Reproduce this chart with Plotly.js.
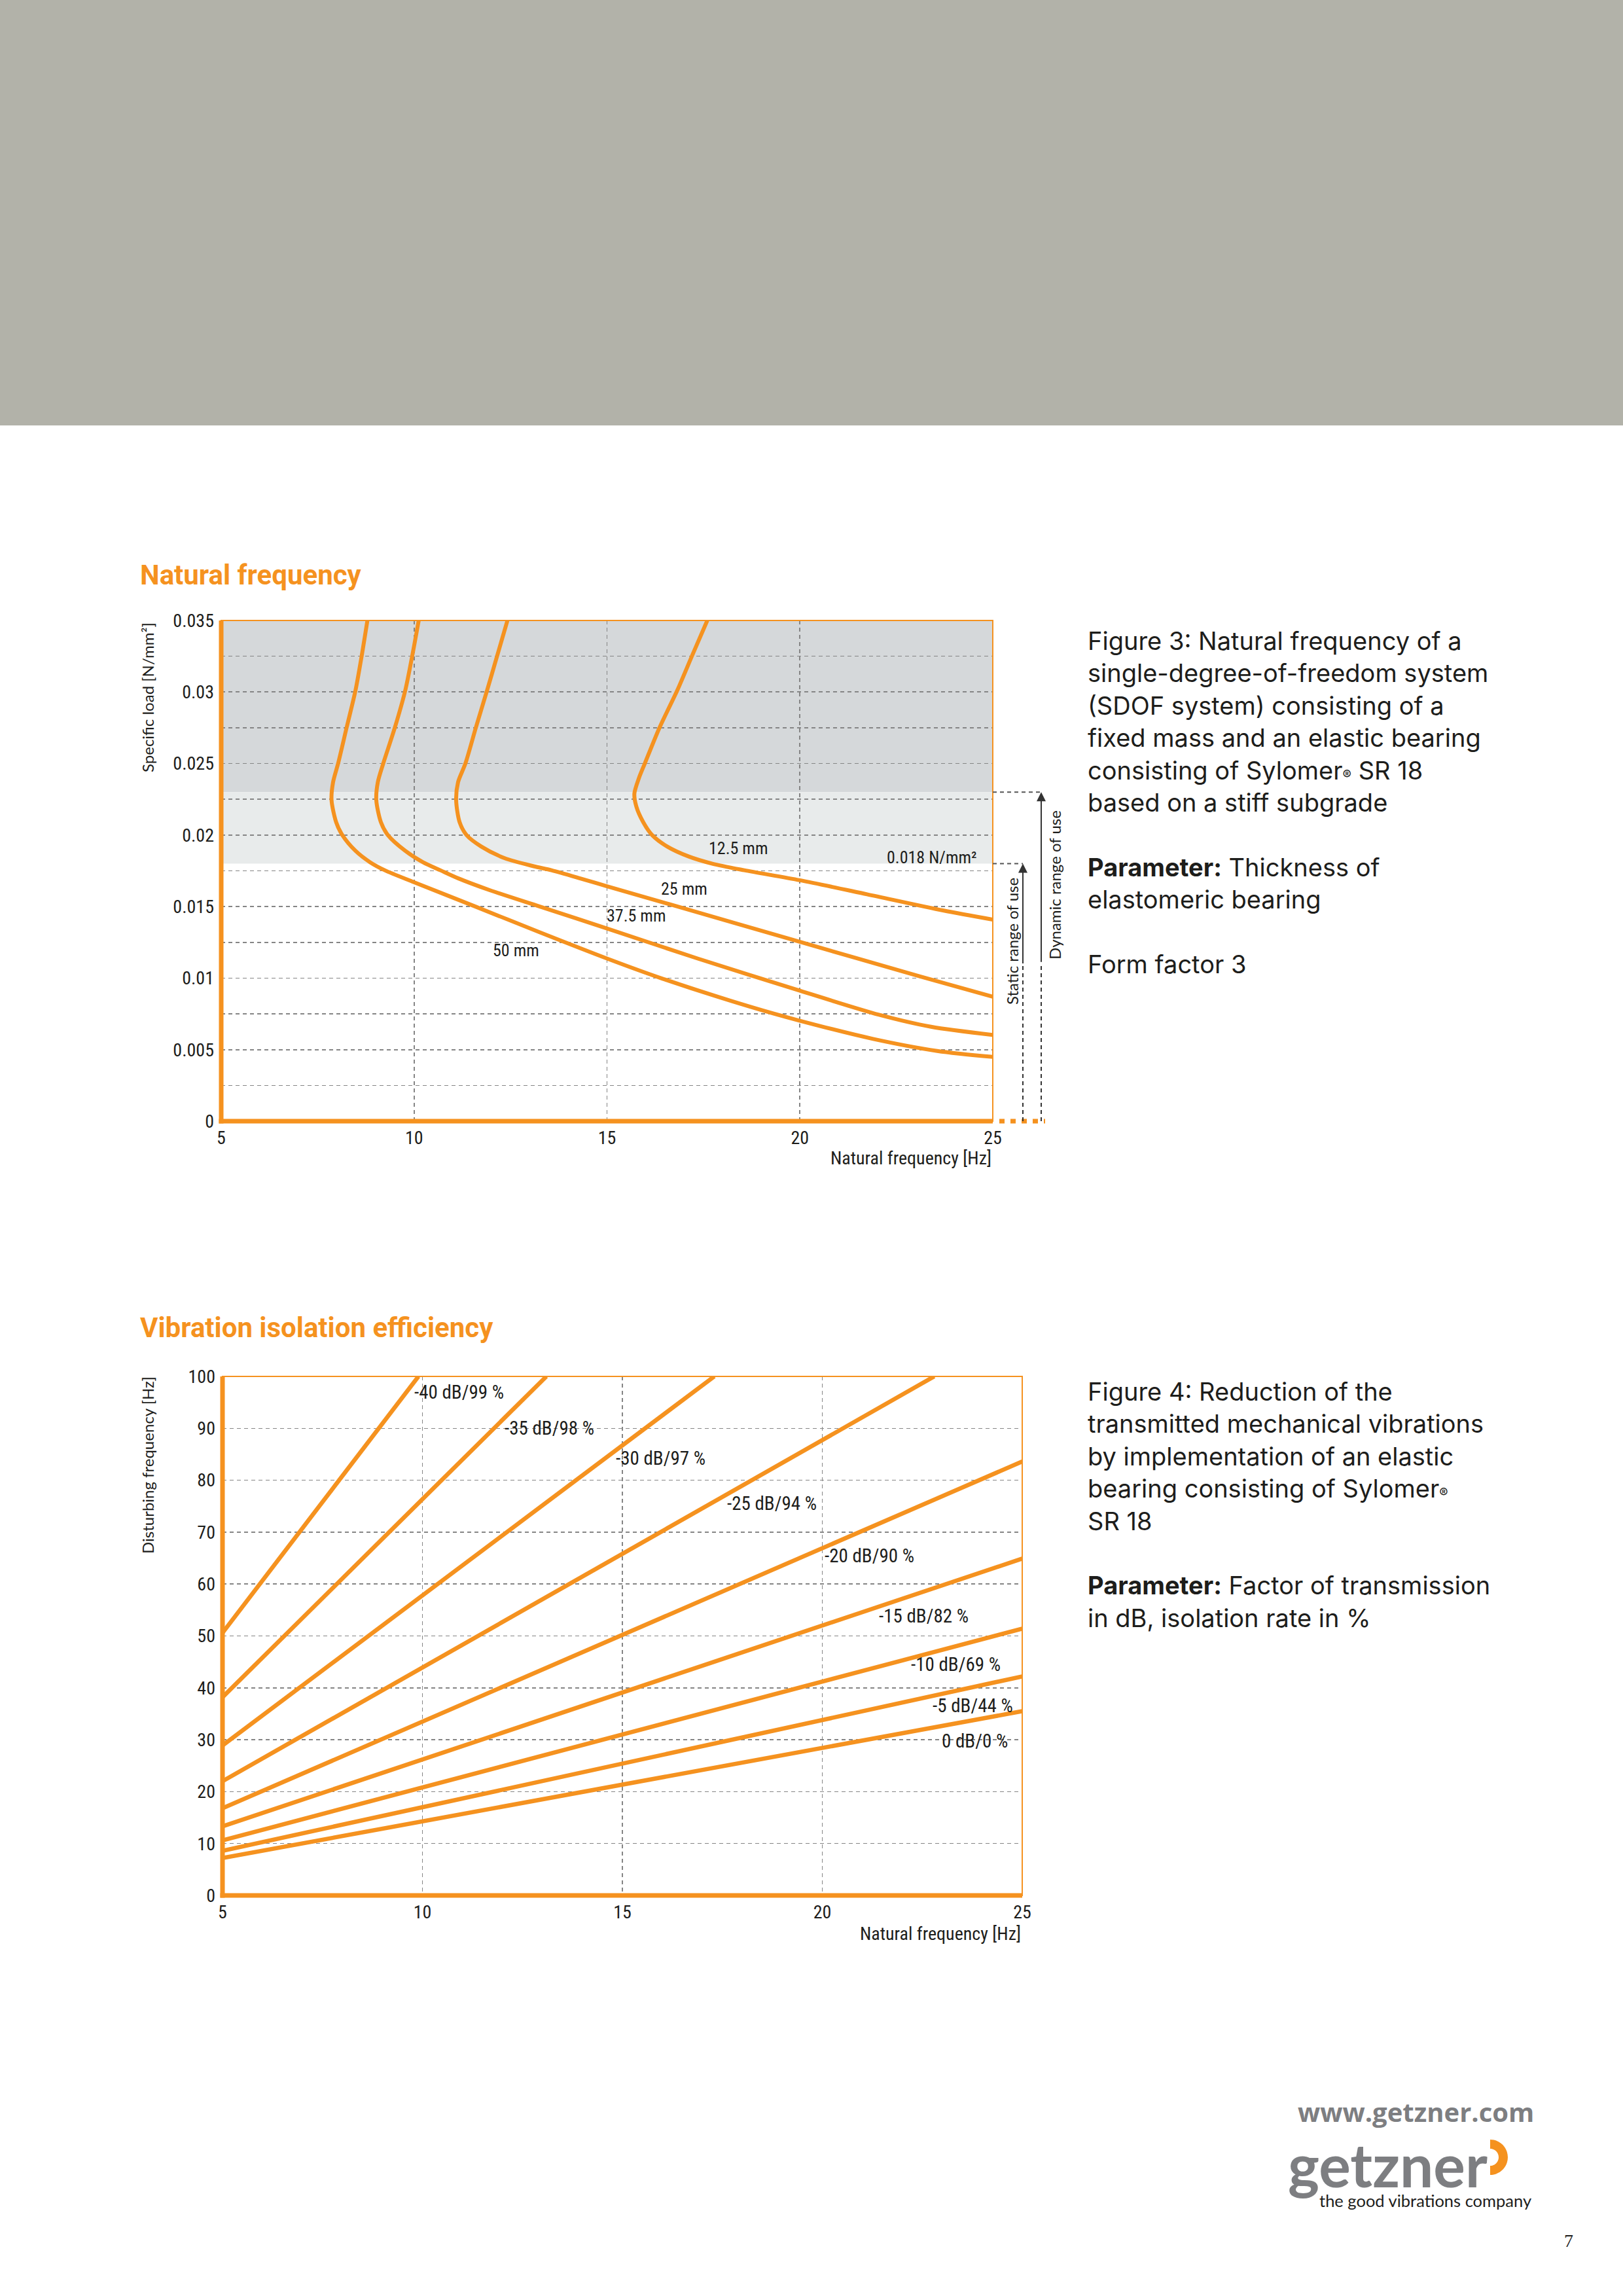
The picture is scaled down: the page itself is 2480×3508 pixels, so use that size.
<!DOCTYPE html>
<html>
<head>
<meta charset="utf-8">
<script src="https://cdn.plot.ly/plotly-3.0.1.min.js"></script>
<style>
html,body{margin:0;padding:0;background:#ffffff;}
#page{width:2480px;height:3508px;}
</style>
</head>
<body>
<div id="page"></div>
<script>
// ---------------- DATA: Figure 3 (natural frequency vs specific load) ----------------
const thicknessLabels = ['12.5 mm', '25 mm', '37.5 mm', '50 mm'];
const freq_12_5 = [17.6, 17.2, 16.82, 16.36, 15.98, 15.83, 15.71, 15.76, 15.94, 16.17, 16.56, 17.12, 17.73, 18.56, 20.0, 21.74, 23.71, 25.0];
const load_12_5 = [0.035, 0.0325, 0.0301, 0.0275, 0.025, 0.024, 0.0229, 0.022, 0.0209, 0.02, 0.0192, 0.0185, 0.018, 0.01754, 0.01684, 0.01586, 0.01473, 0.01409];
const freq_25 = [12.42, 12.15, 11.89, 11.6, 11.33, 11.14, 11.09, 11.18, 11.36, 11.74, 12.35, 13.1, 13.56, 14.32, 15.0, 16.6, 19.92, 23.1, 25.0];
const load_25 = [0.035, 0.0325, 0.0301, 0.0275, 0.025, 0.0237, 0.02245, 0.0209, 0.02, 0.0192, 0.01838, 0.01782, 0.01754, 0.01696, 0.01642, 0.01518, 0.0126, 0.01013, 0.0087];
const freq_37_5 = [10.12, 9.95, 9.77, 9.5, 9.2, 9.06, 9.02, 9.14, 9.32, 9.77, 10.23, 10.68, 11.14, 11.97, 13.26, 15.0, 17.35, 20.0, 22.05, 23.4, 25.0];
const load_37_5 = [0.035, 0.0325, 0.0301, 0.0275, 0.025, 0.0237, 0.02245, 0.0209, 0.02, 0.0189, 0.0181, 0.01754, 0.01698, 0.01614, 0.015, 0.01347, 0.01137, 0.00912, 0.00744, 0.0066, 0.00603];
const freq_50 = [8.79, 8.64, 8.48, 8.25, 8.03, 7.9, 7.86, 7.98, 8.14, 8.48, 8.86, 9.24, 10.0, 11.59, 13.26, 15.0, 16.44, 18.71, 20.0, 21.9, 23.56, 25.0];
const load_50 = [0.035, 0.0325, 0.0301, 0.0275, 0.025, 0.0237, 0.02245, 0.0209, 0.02, 0.0189, 0.0181, 0.01754, 0.0167, 0.015, 0.0132, 0.01137, 0.00996, 0.008, 0.00702, 0.00575, 0.00491, 0.00449];
// label anchor points (freq, load)
const thicknessLabelFreq = [18.4, 17.0, 15.76, 12.65];
const thicknessLabelLoad = [0.01908, 0.01622, 0.01437, 0.01193];
// ranges of use
const staticLimit = 0.018;
const dynamicLimit = 0.023;
const loadMax = 0.035;
const fig3XTicks = [5, 10, 15, 20, 25];
const fig3XTickText = ['5', '10', '15', '20', '25'];
const fig3YTicks = [0, 0.0025, 0.005, 0.0075, 0.01, 0.0125, 0.015, 0.0175, 0.02, 0.0225, 0.025, 0.0275, 0.03, 0.0325, 0.035];
const fig3YTickText = ['0', '', '0.005', '', '0.01', '', '0.015', '', '0.02', '', '0.025', '', '0.03', '', '0.035'];

// ---------------- DATA: Figure 4 (vibration isolation efficiency) ----------------
const isoLabels = ['0 dB/0 %', '-5 dB/44 %', '-10 dB/69 %', '-15 dB/82 %', '-20 dB/90 %', '-25 dB/94 %', '-30 dB/97 %', '-35 dB/98 %', '-40 dB/99 %'];
const isoFreqStart = [5, 5, 5, 5, 5, 5, 5, 5, 5];
const isoDistStart = [7.2, 8.6, 10.6, 13.3, 16.8, 22.0, 28.9, 38.2, 50.6];
const isoFreqEnd = [25, 25, 25, 25, 25, 22.8, 17.3, 13.1, 9.9];
const isoDistEnd = [35.5, 42.2, 51.4, 64.9, 83.6, 100, 100, 100, 100];
const isoLabelFreq = [22.95, 22.73, 22.19, 21.39, 20.03, 17.59, 14.81, 12.02, 9.77];
const isoLabelDist = [29.8, 36.6, 44.5, 53.9, 65.5, 75.5, 84.3, 90.0, 97.0];
const fig4XTicks = [5, 10, 15, 20, 25];
const fig4XTickText = ['5', '10', '15', '20', '25'];
const fig4YTicks = [0, 10, 20, 30, 40, 50, 60, 70, 80, 90, 100];
const fig4YTickText = ['0', '10', '20', '30', '40', '50', '60', '70', '80', '90', '100'];

// ---------------- STYLE ----------------
const W = 2480, H = 3508;
const ORANGE = '#f5921f';
const GRID = '#858585';
const TXT = '#1d1d1b';
const COND = "'Liberation Sans Narrow', 'Roboto Condensed', 'Roboto', sans-serif";
const BODY = "Inter, Lato, sans-serif";
const AXT = "Lato, 'Open Sans', sans-serif";
const px = v => v / W;
const py = v => 1 - v / H;

// chart boxes in page pixels
const C1 = {l: 338, r: 1517, t: 948, b: 1713};
const C2 = {l: 340, r: 1562, t: 2103, b: 2896};

const traces = [];
const fig3Freq = [freq_12_5, freq_25, freq_37_5, freq_50];
const fig3Load = [load_12_5, load_25, load_37_5, load_50];
for (let i = 0; i < fig3Freq.length; i++) {
  traces.push({
    type: 'scatter', mode: 'lines', x: fig3Freq[i], y: fig3Load[i],
    xaxis: 'x', yaxis: 'y', name: thicknessLabels[i], hoverinfo: 'skip',
    line: {color: ORANGE, width: 6, shape: 'spline', smoothing: 0.8}
  });
}
for (let i = 0; i < isoLabels.length; i++) {
  traces.push({
    type: 'scatter', mode: 'lines', x: [isoFreqStart[i], isoFreqEnd[i]], y: [isoDistStart[i], isoDistEnd[i]],
    xaxis: 'x2', yaxis: 'y2', name: isoLabels[i], hoverinfo: 'skip',
    line: {color: ORANGE, width: 6.5}
  });
}

const tickFont = {family: COND, size: 28, color: TXT};
function axisBase(dom, range, tv, tt) {
  return {
    domain: dom, range: range, tickmode: 'array', tickvals: tv, ticktext: tt,
    showgrid: true, gridcolor: GRID, gridwidth: 1.6, griddash: '6px,5px',
    zeroline: false, showline: false, ticks: '', tickfont: tickFont, fixedrange: true
  };
}

const layout = {
  width: W, height: H, margin: {l: 0, r: 0, t: 0, b: 0},
  paper_bgcolor: '#ffffff', plot_bgcolor: 'rgba(0,0,0,0)', showlegend: false,
  xaxis: Object.assign(axisBase([px(C1.l), px(C1.r)], [5, 25], fig3XTicks, fig3XTickText), {anchor: 'y', ticklabelstandoff: 6}),
  yaxis: Object.assign(axisBase([py(C1.b), py(C1.t)], [0, loadMax], fig3YTicks, fig3YTickText), {anchor: 'x', ticklabelstandoff: 10}),
  xaxis2: Object.assign(axisBase([px(C2.l), px(C2.r)], [5, 25], fig4XTicks, fig4XTickText), {anchor: 'y2', ticklabelstandoff: 6}),
  yaxis2: Object.assign(axisBase([py(C2.b), py(C2.t)], [0, 100], fig4YTicks, fig4YTickText), {anchor: 'x2', ticklabelstandoff: 10}),
  shapes: [],
  annotations: []
};
const S = layout.shapes, A = layout.annotations;

// header band
S.push({type: 'rect', xref: 'paper', yref: 'paper', x0: 0, x1: 1, y0: py(650), y1: 1, fillcolor: '#b2b2a9', line: {width: 0}, layer: 'below'});

// figure 3 shaded ranges
S.push({type: 'rect', xref: 'x', yref: 'y', x0: 5, x1: 25, y0: dynamicLimit, y1: loadMax, fillcolor: '#d5d8da', line: {width: 0}, layer: 'below'});
S.push({type: 'rect', xref: 'x', yref: 'y', x0: 5, x1: 25, y0: staticLimit, y1: dynamicLimit, fillcolor: '#e8ebeb', line: {width: 0}, layer: 'below'});

// borders
function borders(c) {
  S.push({type: 'rect', xref: 'paper', yref: 'paper', x0: px(c.l), x1: px(c.r), y0: py(c.b), y1: py(c.t), line: {color: ORANGE, width: 2}, layer: 'above'});
  S.push({type: 'line', xref: 'paper', yref: 'paper', x0: px(c.l), x1: px(c.l), y0: py(c.b + 3.5), y1: py(c.t), line: {color: ORANGE, width: 7}, layer: 'above'});
  S.push({type: 'line', xref: 'paper', yref: 'paper', x0: px(c.l - 3.5), x1: px(c.r), y0: py(c.b), y1: py(c.b), line: {color: ORANGE, width: 7}, layer: 'above'});
}
borders(C1); borders(C2);
// dotted extension of the x-axis in figure 3
S.push({type: 'line', xref: 'paper', yref: 'paper', x0: px(1527), x1: px(1597), y0: py(C1.b), y1: py(C1.b), line: {color: ORANGE, width: 7, dash: '8px,9px'}, layer: 'above'});

// ranges of use (figure 3)
const xStatic = px(1563), xDyn = px(1591);
S.push({type: 'line', xref: 'paper', yref: 'y', x0: px(C1.r), x1: xStatic, y0: staticLimit, y1: staticLimit, line: {color: '#555', width: 2, dash: '6px,5px'}});
S.push({type: 'line', xref: 'paper', yref: 'y', x0: px(C1.r), x1: xDyn, y0: dynamicLimit, y1: dynamicLimit, line: {color: '#555', width: 2, dash: '6px,5px'}});
S.push({type: 'line', xref: 'paper', yref: 'y', x0: xStatic, x1: xStatic, y0: 0, y1: 0.011, line: {color: '#333', width: 2, dash: '6px,5px'}});
S.push({type: 'line', xref: 'paper', yref: 'y', x0: xDyn, x1: xDyn, y0: 0, y1: 0.011, line: {color: '#333', width: 2, dash: '6px,5px'}});
A.push({xref: 'paper', yref: 'y', x: xStatic, y: staticLimit, text: '', showarrow: true, axref: 'pixel', ayref: 'pixel', ax: 0, ay: 154, arrowhead: 2, arrowsize: 1.4, arrowwidth: 2, arrowcolor: '#333', standoff: 0});
A.push({xref: 'paper', yref: 'y', x: xDyn, y: dynamicLimit, text: '', showarrow: true, axref: 'pixel', ayref: 'pixel', ax: 0, ay: 261, arrowhead: 2, arrowsize: 1.4, arrowwidth: 2, arrowcolor: '#333', standoff: 0});
A.push({xref: 'paper', yref: 'paper', x: px(1546), y: py(1438), text: 'Static range of use', textangle: -90, showarrow: false, xanchor: 'center', yanchor: 'middle', font: {family: AXT, size: 24, color: TXT}});
A.push({xref: 'paper', yref: 'paper', x: px(1611), y: py(1352), text: 'Dynamic range of use', textangle: -90, showarrow: false, xanchor: 'center', yanchor: 'middle', font: {family: AXT, size: 24, color: TXT}});

// curve labels figure 3
for (let i = 0; i < thicknessLabels.length; i++) {
  A.push({xref: 'x', yref: 'y', x: thicknessLabelFreq[i], y: thicknessLabelLoad[i], text: thicknessLabels[i], showarrow: false, font: {family: COND, size: 26, color: TXT}});
}
A.push({xref: 'x', yref: 'y', x: 24.62, y: 0.01844, text: '0.018 N/mm²', xanchor: 'right', showarrow: false, font: {family: COND, size: 26, color: TXT}});

// curve labels figure 4
for (let i = 0; i < isoLabels.length; i++) {
  A.push({xref: 'x2', yref: 'y2', x: isoLabelFreq[i], y: isoLabelDist[i], text: isoLabels[i], xanchor: 'left', yanchor: 'middle', showarrow: false, font: {family: COND, size: 29, color: TXT}});
}

// axis titles
A.push({xref: 'paper', yref: 'paper', x: px(225), y: py(1066), text: 'Specific load [N/mm²]', textangle: -90, showarrow: false, xanchor: 'center', yanchor: 'middle', font: {family: AXT, size: 24, color: TXT}});
A.push({xref: 'paper', yref: 'paper', x: px(C1.r), y: py(1769), text: 'Natural frequency [Hz]', xanchor: 'right', yanchor: 'middle', showarrow: false, font: {family: COND, size: 28, color: TXT}});
A.push({xref: 'paper', yref: 'paper', x: px(225), y: py(2239), text: 'Disturbing frequency [Hz]', textangle: -90, showarrow: false, xanchor: 'center', yanchor: 'middle', font: {family: AXT, size: 24, color: TXT}});
A.push({xref: 'paper', yref: 'paper', x: px(C2.r), y: py(2954), text: 'Natural frequency [Hz]', xanchor: 'right', yanchor: 'middle', showarrow: false, font: {family: COND, size: 28, color: TXT}});

// headings
A.push({xref: 'paper', yref: 'paper', x: px(212), y: py(878), text: '<b>Natural frequency</b>', xanchor: 'left', yanchor: 'middle', showarrow: false, font: {family: "Roboto, sans-serif", size: 42, color: ORANGE}});
A.push({xref: 'paper', yref: 'paper', x: px(212), y: py(2028), text: '<b>Vibration isolation efficiency</b>', xanchor: 'left', yanchor: 'middle', showarrow: false, font: {family: "Roboto, sans-serif", size: 42, color: ORANGE}});

// captions
const reg = '<span style="font-size:20px">®</span>';
const cap1 = ['Figure 3: Natural frequency of a', 'single-degree-of-freedom system', '(SDOF system) consisting of a',
  'fixed mass and an elastic bearing', 'consisting of Sylomer' + reg + ' SR 18', 'based on a stiff subgrade', ' ',
  '<b>Parameter:</b> Thickness of', 'elastomeric bearing', ' ', 'Form factor 3'];
const cap2 = ['Figure 4: Reduction of the', 'transmitted mechanical vibrations', 'by implementation of an elastic',
  'bearing consisting of Sylomer' + reg, 'SR 18', ' ', '<b>Parameter:</b> Factor of transmission', 'in dB, isolation rate in %'];
A.push({xref: 'paper', yref: 'paper', x: px(1660), y: py(954), text: cap1.join('<br>'), xanchor: 'left', yanchor: 'top', align: 'left', showarrow: false, font: {family: BODY, size: 38, color: TXT}});
A.push({xref: 'paper', yref: 'paper', x: px(1660), y: py(2101), text: cap2.join('<br>'), xanchor: 'left', yanchor: 'top', align: 'left', showarrow: false, font: {family: BODY, size: 38, color: TXT}});

// footer / logo
A.push({xref: 'paper', yref: 'paper', x: px(2346), y: py(3226), text: '<b>www.getzner.com</b>', xanchor: 'right', yanchor: 'middle', showarrow: false, font: {family: "'Open Sans', sans-serif", size: 40, color: '#7d7e81'}});
A.push({xref: 'paper', yref: 'paper', x: px(1966), y: py(3306), text: '<b>getzner</b>', xanchor: 'left', yanchor: 'middle', showarrow: false, font: {family: "Lato, sans-serif", size: 91, color: '#7d7e81'}});
A.push({xref: 'paper', yref: 'paper', x: px(2342), y: py(3362), text: 'the good vibrations company', xanchor: 'right', yanchor: 'middle', showarrow: false, font: {family: AXT, size: 25.5, color: TXT}});
A.push({xref: 'paper', yref: 'paper', x: px(2397), y: py(3423), text: '7', xanchor: 'center', yanchor: 'middle', showarrow: false, font: {family: "'Liberation Serif', serif", size: 28, color: TXT}});
// orange half-ring of the logo
(function () {
  const cx = 2277, cy = 3296, ro = 27, ri = 13, k = 0.5523;
  const P = (x, y) => px(x).toFixed(6) + ',' + py(y).toFixed(6);
  const d = 'M' + P(cx, cy - ro) +
    ' C' + P(cx + k * ro, cy - ro) + ' ' + P(cx + ro, cy - k * ro) + ' ' + P(cx + ro, cy) +
    ' C' + P(cx + ro, cy + k * ro) + ' ' + P(cx + k * ro, cy + ro) + ' ' + P(cx, cy + ro) +
    ' L' + P(cx, cy + ri) +
    ' C' + P(cx + k * ri, cy + ri) + ' ' + P(cx + ri, cy + k * ri) + ' ' + P(cx + ri, cy) +
    ' C' + P(cx + ri, cy - k * ri) + ' ' + P(cx + k * ri, cy - ri) + ' ' + P(cx, cy - ri) + ' Z';
  S.push({type: 'path', xref: 'paper', yref: 'paper', path: d, fillcolor: ORANGE, line: {width: 0}});
})();

Plotly.newPlot('page', traces, layout, {staticPlot: true, displayModeBar: false});
</script>
</body>
</html>
